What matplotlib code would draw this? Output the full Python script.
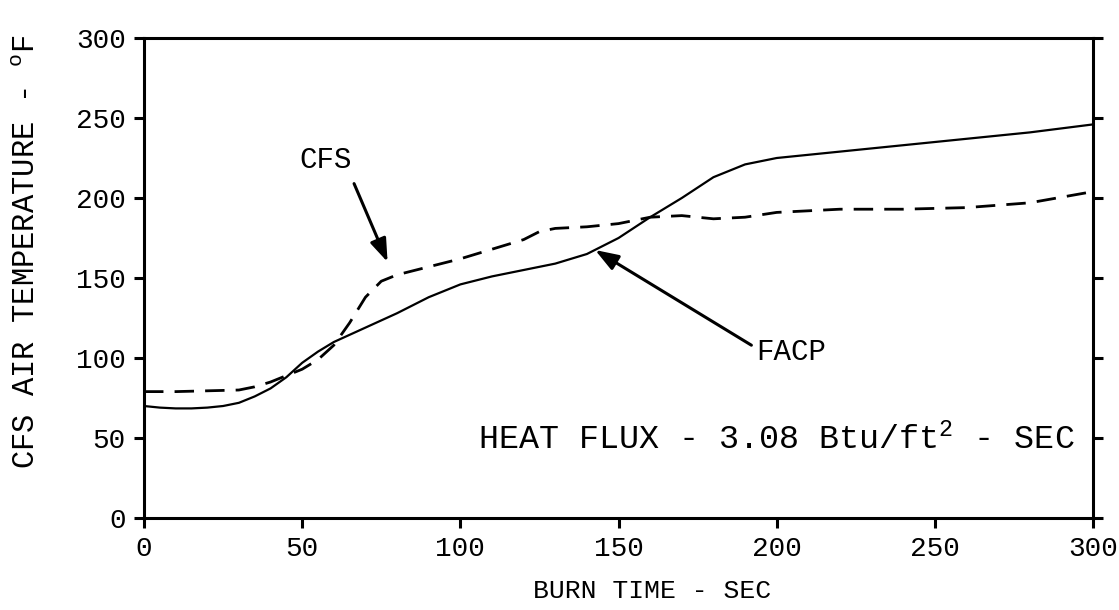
import matplotlib
matplotlib.use('Agg')
import matplotlib.pyplot as plt

plt.rcParams['font.family'] = 'Liberation Mono'
plt.rcParams['mathtext.fontset'] = 'custom'
plt.rcParams['mathtext.rm'] = 'Liberation Mono'
plt.rcParams['mathtext.default'] = 'rm'

# burn time (sec) and air temperature (deg F)
facp_t = [0, 5, 10, 15, 20, 25, 30, 35, 40, 45, 50, 55, 60, 70, 80, 90, 100,
          110, 120, 130, 140, 150, 160, 170, 180, 190, 200, 220, 240, 260, 280, 300]
facp_v = [70, 69, 68.5, 68.5, 69, 70, 72, 76, 81, 88, 97, 104, 110, 119, 128, 138, 146,
          151, 155, 159, 165, 175, 188, 200, 213, 221, 225, 229, 233, 237, 241, 246]

cfs_t = [0, 10, 20, 30, 35, 40, 45, 50, 55, 60, 65, 70, 75, 80, 90, 100, 110,
         120, 125, 130, 140, 150, 160, 170, 180, 190, 200, 220, 240, 260, 280, 300]
cfs_v = [79, 79, 79.5, 80, 82, 85, 89, 93, 99, 108, 122, 138, 148, 152, 157, 162, 168,
         174, 179, 181, 182, 184, 188, 189, 187, 188, 191, 193, 193, 194, 197, 204]

ticks = [0, 50, 100, 150, 200, 250, 300]

fig = plt.figure(figsize=(11.19, 6.10), dpi=100)
ax = fig.add_axes([0.1287, 0.1508, 0.8481, 0.7869])

ax.plot(facp_t, facp_v, color='black', lw=1.6)
ax.plot(cfs_t, cfs_v, color='black', lw=2.0, dashes=(7, 4))

ax.set_xlim(0, 300)
ax.set_ylim(0, 300)
ax.set_xticks(ticks)
ax.set_yticks(ticks)
for s in ax.spines.values():
    s.set_linewidth(2.2)
ax.tick_params(axis='both', direction='out', length=7, width=2.2, labelsize=20, pad=6)
ax.tick_params(axis='y', right=True)

ax.set_xlabel('BURN TIME - SEC', fontsize=19)
ax.xaxis.set_label_coords(0.535, -0.128)
ax.set_ylabel('CFS AIR TEMPERATURE - $^{o}$F', fontsize=22)
ax.yaxis.set_label_coords(-0.108, 0.555)

arrow = dict(arrowstyle='-|>,head_length=1.4,head_width=0.5', color='black', lw=2.2,
             shrinkA=0, shrinkB=0)
ax.annotate('', xy=(77, 160), xytext=(66.4, 209), arrowprops=arrow)
ax.text(57.5, 224, 'CFS', fontsize=21, ha='center', va='center')
ax.annotate('', xy=(142.6, 167.5), xytext=(192, 108), arrowprops=arrow)
ax.text(193.5, 104, 'FACP', fontsize=21, ha='left', va='center')
ax.text(294.3, 49, 'HEAT FLUX - 3.08 Btu/ft$^2$ - SEC', fontsize=24, ha='right', va='center')

fig.savefig('out.png', dpi=100)
